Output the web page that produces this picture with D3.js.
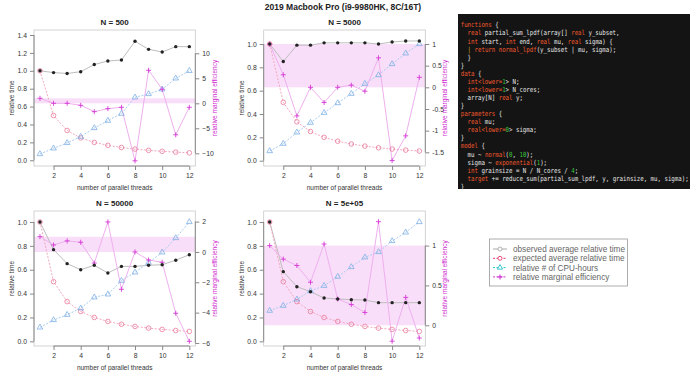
<!DOCTYPE html>
<html><head><meta charset="utf-8">
<script src="https://cdn.jsdelivr.net/npm/d3@7"></script>
<style>body{margin:0;background:#fff}svg{display:block}text{font-family:"Liberation Sans",Arial,sans-serif}</style>
</head><body><svg id="c" width="690" height="379"></svg>
<script>
const threads = [1,2,3,4,5,6,7,8,9,10,11,12];
const panelTitles = ["N = 500","N = 5000","N = 50000","N = 5e+05"];
const expected = [1,0.5,0.333,0.25,0.2,0.167,0.143,0.125,0.111,0.1,0.091,0.083];
const observed500 = [1.0,0.98,0.97,0.99,1.07,1.11,1.12,1.33,1.24,1.21,1.27,1.27];
const cpu500 = [0.07,0.134,0.194,0.264,0.361,0.443,0.521,0.704,0.741,0.793,0.916,1.0];
const marginal500 = [1.0,0.0,0.0,-0.4,-1.67,-1.07,-0.8,-11.5,6.6,2.8,-6.3,-0.8];
const observed5000 = [1.0,0.85,0.99,0.99,1.01,1.01,1.01,1.01,1.0,1.017,1.026,1.026];
const cpu5000 = [0.083,0.146,0.243,0.326,0.411,0.494,0.574,0.66,0.734,0.829,0.92,1.0];
const marginal5000 = [1.0,0.29,-0.66,0.0,-0.35,0.0,0.05,-0.09,0.68,-1.69,-1.12,0.23];
const observed50000 = [1.0,0.768,0.651,0.6,0.637,0.573,0.628,0.628,0.637,0.642,0.68,0.726];
const cpu50000 = [0.117,0.179,0.223,0.277,0.369,0.394,0.508,0.578,0.659,0.746,0.866,1.0];
const marginal50000 = [1.01,0.46,0.73,0.64,-0.73,1.98,-2.46,0.0,-0.53,-0.68,-4.04,-5.89];
const observed5e5 = [1.0,0.584,0.458,0.416,0.363,0.355,0.349,0.346,0.324,0.324,0.324,0.324];
const cpu5e5 = [0.257,0.299,0.352,0.422,0.466,0.542,0.623,0.704,0.749,0.841,0.913,1.0];
const marginal5e5 = [1.0,0.83,0.75,0.54,1.02,0.33,0.26,0.16,1.30,-0.20,0.35,-0.16];
const leftTicks = [[0,0.2,0.4,0.6,0.8,1.0,1.2,1.4],[0,0.2,0.4,0.6,0.8,1.0],[0,0.2,0.4,0.6,0.8,1.0],[0,0.2,0.4,0.6,0.8,1.0]];
const rightTicks = [[-10,-5,0,5,10],[-1.5,-1,-0.5,0,0.5,1],[-6,-4,-2,0,2],[0,0.5,1]];
const xTicks = [2,4,6,8,10,12];
const legendLabels = ["observed average relative time","expected average relative time","relative # of CPU-hours","relative marginal efficiency"];
const mainTitle = "2019 Macbook Pro (i9-9980HK, 8C/16T)";
const codeLines = [
"functions {",
"  real partial_sum_lpdf(array[] real y_subset,",
"  int start, int end, real mu, real sigma) {",
"  | return normal_lpdf(y_subset | mu, sigma);",
"  }",
"}",
"data {",
"  int<lower=1> N;",
"  int<lower=1> N_cores;",
"  array[N] real y;",
"}",
"parameters {",
"  real mu;",
"  real<lower=0> sigma;",
"}",
"model {",
"  mu ~ normal(0, 10);",
"  sigma ~ exponential(1);",
"  int grainsize = N / N_cores / 4;",
"  target += reduce_sum(partial_sum_lpdf, y, grainsize, mu, sigma);",
"}"];

const svg = d3.select("#c");
const panels = [
 {obs:observed500,cpu:cpu500,mar:marginal500,x0:34,x1:195.3,y0:30,y1:166,ld:[-0.064,1.456],rd:[-12.54,14.66],rf:d3.format("d")},
 {obs:observed5000,cpu:cpu5000,mar:marginal5000,x0:263.7,x1:425.3,y0:30,y1:166,ld:[-0.0454,1.12],rd:[-1.816,1.323],rf:d=>String(d)},
 {obs:observed50000,cpu:cpu50000,mar:marginal50000,x0:34,x1:195.3,y0:211,y1:346,ld:[-0.039,1.092],rd:[-6.2,2.70],rf:d3.format("d")},
 {obs:observed5e5,cpu:cpu5e5,mar:marginal5e5,x0:263.7,x1:425.3,y0:211,y1:346,ld:[-0.039,1.092],rd:[-0.26,1.434],rf:d=>String(d)}
];
svg.append("text").attr("x",343).attr("y",10).attr("text-anchor","middle").attr("font-size",8.5).attr("font-weight","bold").attr("fill","#222").text(mainTitle);

const colObsLine="#bdbdbd", colObsPt="#222", colExpLine="#f3a9c0", colExpPt="#e97a9a",
      colCpuLine="#a9cdf0", colCpuPt="#7fb0e6", colMarLine="#eeb0ee", colMarPt="#d63ad6";

panels.forEach((p,i)=>{
  const g = svg.append("g");
  const x = d3.scaleLinear().domain([0.56,12.44]).range([p.x0,p.x1]);
  const yl = d3.scaleLinear().domain(p.ld).range([p.y1,p.y0]);
  const yr = d3.scaleLinear().domain(p.rd).range([p.y1,p.y0]);
  g.append("rect").attr("x",p.x0).attr("width",p.x1-p.x0).attr("y",yr(1)).attr("height",yr(0)-yr(1)).attr("fill","#f8def8");
  g.append("rect").attr("x",p.x0).attr("y",p.y0).attr("width",p.x1-p.x0).attr("height",p.y1-p.y0).attr("fill","none").attr("stroke","#c8c8c8").attr("stroke-width",0.8);
  const ax = g.append("g").attr("transform",`translate(0,${p.y1})`).call(d3.axisBottom(x).tickValues(xTicks).tickSize(4).tickPadding(3).tickFormat(d3.format("d")));
  const al = g.append("g").attr("transform",`translate(${p.x0},0)`).call(d3.axisLeft(yl).tickValues(leftTicks[i]).tickSize(4).tickPadding(3).tickFormat(d3.format(".1f")));
  const ar = g.append("g").attr("transform",`translate(${p.x1},0)`).call(d3.axisRight(yr).tickValues(rightTicks[i]).tickSize(4).tickPadding(3).tickFormat(p.rf));
  [ax,al,ar].forEach(a=>{a.select(".domain").remove();a.selectAll("line").attr("stroke","#888");a.selectAll("text").attr("font-size",6.8).attr("fill","#333").style("font-family","Liberation Sans, Arial, sans-serif");});
  ax.append("line").attr("x1",x(xTicks[0])).attr("x2",x(12)).attr("stroke","#888");
  al.append("line").attr("y1",yl(leftTicks[i][0])).attr("y2",yl(leftTicks[i][leftTicks[i].length-1])).attr("stroke","#888");
  ar.append("line").attr("y1",yr(rightTicks[i][0])).attr("y2",yr(rightTicks[i][rightTicks[i].length-1])).attr("stroke","#888");
  const cx=(p.x0+p.x1)/2;
  g.append("text").attr("x",cx).attr("y",p.y0-5).attr("text-anchor","middle").attr("font-size",8).attr("font-weight","bold").attr("fill","#222").text(panelTitles[i]);
  g.append("text").attr("x",cx).attr("y",p.y1+24).attr("text-anchor","middle").attr("font-size",6.5).attr("fill","#333").text("number of parallel threads");
  g.append("text").attr("transform",`translate(${p.x0-20},${(p.y0+p.y1)/2}) rotate(-90)`).attr("text-anchor","middle").attr("font-size",6.5).attr("fill","#333").text("relative time");
  g.append("text").attr("transform",`translate(${p.x1+22},${(p.y0+p.y1)/2}) rotate(-90)`).attr("text-anchor","middle").attr("font-size",6.5).attr("fill","#d02cd0").text("relative marginal efficiency");
  const line = (ys,sc)=>d3.line().x((d,j)=>x(threads[j])).y(d=>sc(d))(ys);
  g.append("path").attr("d",line(p.obs,yl)).attr("fill","none").attr("stroke",colObsLine).attr("stroke-width",1);
  g.append("path").attr("d",line(expected,yl)).attr("fill","none").attr("stroke",colExpLine).attr("stroke-width",1).attr("stroke-dasharray","2,1.5");
  g.append("path").attr("d",line(p.cpu,yl)).attr("fill","none").attr("stroke",colCpuLine).attr("stroke-width",1).attr("stroke-dasharray","2,1.5");
  g.append("path").attr("d",line(p.mar,yr)).attr("fill","none").attr("stroke",colMarLine).attr("stroke-width",1);
  g.selectAll(".e").data(expected).join("circle").attr("cx",(d,j)=>x(threads[j])).attr("cy",d=>yl(d)).attr("r",2.3).attr("fill","none").attr("stroke",colExpPt).attr("stroke-width",0.8);
  g.selectAll(".c").data(p.cpu).join("path").attr("transform",(d,j)=>`translate(${x(threads[j])},${yl(d)})`).attr("d",d3.symbol(d3.symbolTriangle,14)).attr("fill","none").attr("stroke",colCpuPt).attr("stroke-width",0.8);
  g.selectAll(".m").data(p.mar).join("path").attr("transform",(d,j)=>`translate(${x(threads[j])},${yr(d)})`).attr("d","M-2.5,0H2.5M0,-2.5V2.5").attr("stroke",colMarPt).attr("stroke-width",0.9);
  g.selectAll(".o").data(p.obs).join("circle").attr("cx",(d,j)=>x(threads[j])).attr("cy",d=>yl(d)).attr("r",1.7).attr("fill",colObsPt);
});

// code box
svg.append("rect").attr("x",458).attr("y",14).attr("width",232).attr("height",175).attr("fill","#141414");
const kw = new Set(["functions","data","parameters","model","real","int","return","lower","normal_lpdf","normal","exponential","target"]);
const cg = svg.append("g").attr("transform","translate(460.7,0) scale(0.82,1)");
codeLines.forEach((ln,k)=>{
  const t = cg.append("text").attr("x",0).attr("y",27.4+k*8.07).attr("font-size",7).style("font-family","'DejaVu Sans Mono', 'Liberation Mono', monospace");
  const toks = ln.match(/[A-Za-z_]+|\d+|\s+|./g) || [];
  toks.forEach((tk,j)=>{
    let col="#e8e8e8";
    if(kw.has(tk)) col="#f25a2e";
    else if(/^\d+$/.test(tk)) col="#3cc43c";
    else if(tk==="<" && toks[j+1]==="lower") col="#f25a2e";
    else if(tk==="=" && toks[j-1]==="lower") col="#f25a2e";
    else if(tk==="|" && k===3 && j===1) col="#d9a520";
    t.append("tspan").attr("fill",col).text(tk.replace(/ /g,"\u00a0"));
  });
});

// legend
const lg = svg.append("g");
lg.append("rect").attr("x",489.5).attr("y",239).attr("width",138).attr("height",47).attr("fill","#fff").attr("stroke","#999").attr("stroke-width",0.8);
const legCols = [["#aaaaaa","#aaaaaa","circle",null],["#e23a6e","#e23a6e","circle","2,1.5"],["#22c2c8","#22c2c8","tri","2,1.5"],["#d03ad0","#d03ad0","plus","2,1.5"]];
legendLabels.forEach((lab,k)=>{
  const yy = 249+k*9.3;
  const [lc,pc,sh,da] = legCols[k];
  lg.append("line").attr("x1",493).attr("x2",507).attr("y1",yy).attr("y2",yy).attr("stroke",lc).attr("stroke-width",1).attr("stroke-dasharray",da);
  if(sh==="circle") lg.append("circle").attr("cx",500).attr("cy",yy).attr("r",2).attr("fill","#fff").attr("stroke",pc).attr("stroke-width",0.9);
  else if(sh==="tri") lg.append("path").attr("transform",`translate(500,${yy})`).attr("d",d3.symbol(d3.symbolTriangle,12)).attr("fill","#fff").attr("stroke",pc).attr("stroke-width",0.9);
  else lg.append("path").attr("transform",`translate(500,${yy})`).attr("d","M-2.5,0H2.5M0,-2.5V2.5").attr("stroke",pc).attr("stroke-width",1.1);
  lg.append("text").attr("x",513).attr("y",yy+3).attr("font-size",8.2).attr("fill","#666").text(lab);
});
</script></body></html>
